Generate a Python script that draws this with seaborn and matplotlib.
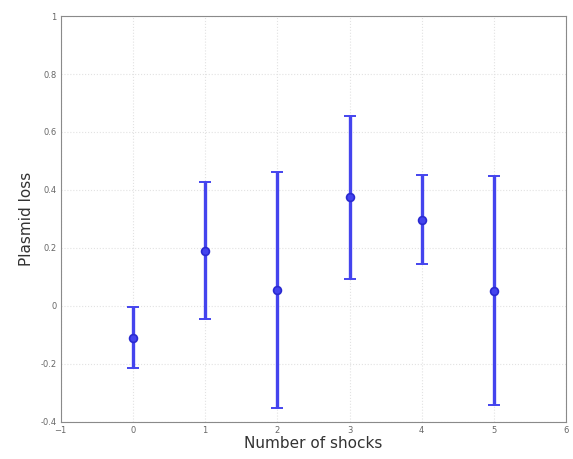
import matplotlib
matplotlib.use("Agg")
import matplotlib.pyplot as plt
import seaborn as sns
import pandas as pd

# values
shocks = [0, 1, 2, 3, 4, 5]
plasmid_loss = [-0.11, 0.19, 0.055, 0.375, 0.297, 0.052]
err = [0.106, 0.236, 0.407, 0.281, 0.153, 0.395]

xticks = [-1, 0, 1, 2, 3, 4, 5, 6]
yticks = [-0.4, -0.2, 0, 0.2, 0.4, 0.6, 0.8, 1]
ytick_labels = ["-0.4", "-0.2", "0", "0.2", "0.4", "0.6", "0.8", "1"]

df = pd.DataFrame({"shocks": shocks, "loss": plasmid_loss, "err": err})

sns.set_style("whitegrid", {"grid.linestyle": ":", "grid.color": "#e2e2e2",
                            "axes.edgecolor": "#8a8a8a"})
plt.rcParams["font.family"] = ["DejaVu Sans"]

fig = plt.figure(figsize=(5.73, 4.59), dpi=100)
ax = fig.add_axes([0.106, 0.081, 0.882, 0.884])

blue = "#4444ee"
ax.errorbar(df["shocks"], df["loss"], yerr=df["err"], fmt="none",
            ecolor=blue, elinewidth=2.4, capsize=4, capthick=1.4, zorder=2)
sns.scatterplot(data=df, x="shocks", y="loss", ax=ax, color=blue, s=32,
                edgecolor="#2a2ad0", linewidth=1.2, zorder=3)

ax.set_xlim(-1, 6)
ax.set_ylim(-0.4, 1)
ax.set_xticks(xticks)
ax.set_yticks(yticks)
ax.set_yticklabels(ytick_labels)
ax.tick_params(labelsize=6, colors="#666666", length=0, pad=3)
ax.set_xlabel("Number of shocks", fontsize=11, color="#333333", labelpad=1)
ax.set_ylabel("Plasmid loss", fontsize=11, color="#333333", labelpad=5)
for s in ax.spines.values():
    s.set_linewidth(0.8)

fig.savefig("out.png", dpi=100, facecolor="white")
